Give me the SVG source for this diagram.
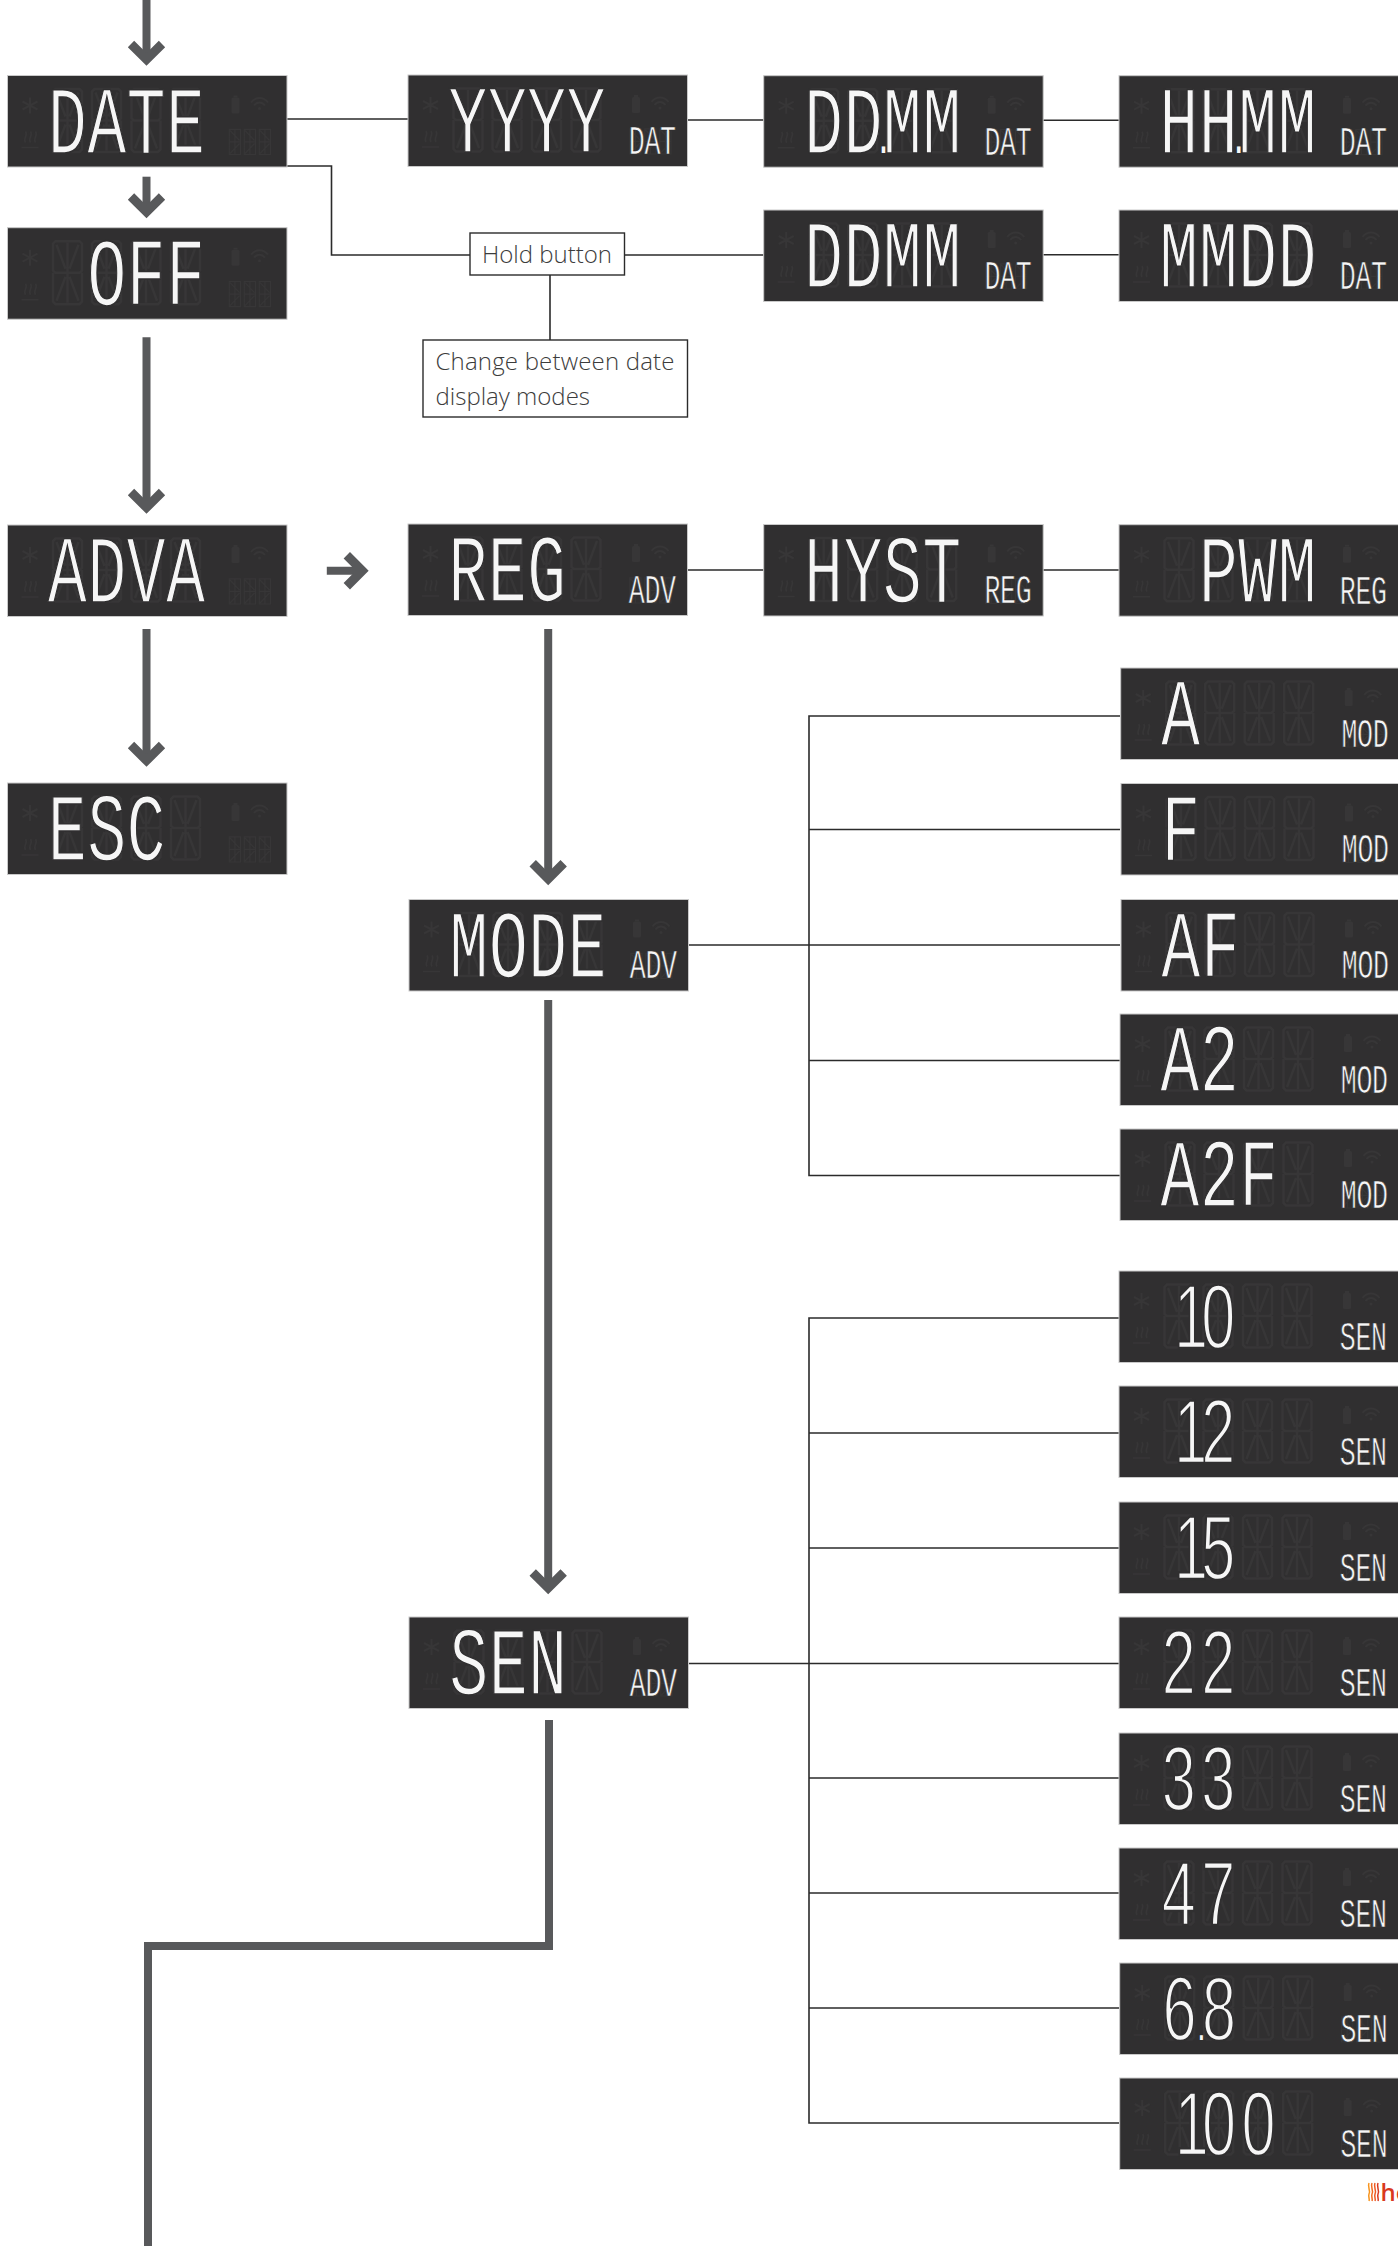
<svg xmlns="http://www.w3.org/2000/svg" width="1398" height="2246" viewBox="0 0 1398 2246">
<style>
.bg{fill:#302f30;stroke:#c9c9c9;stroke-width:1}
.gh{fill:none;stroke:#373637;stroke-width:2.500}
.gf{fill:#373637}
.b,.s{font-family:"Liberation Mono",monospace;fill:#f6f6f6;stroke:#302f30;text-anchor:middle}
.b{font-size:96px;stroke-width:1.600;transform:scaleX(.68)}
.d{font-size:44px;stroke-width:0}
.n{font-family:"Liberation Sans",sans-serif;font-size:90px;stroke-width:2.400}
.s{font-size:41px;stroke-width:.7;transform:scaleX(.65)}
.thin{fill:none;stroke:#2b2b2b;stroke-width:1.600}
.thick{fill:none;stroke:#58595b;stroke-width:8}
.arr{marker-end:url(#head)}
.box{fill:#fff;stroke:#2b2b2b;stroke-width:1.400}
.lb{font-family:"Open Sans",sans-serif;font-weight:300;font-size:24px;fill:#3c3c3c}
</style>
<defs>
<marker id="head" markerUnits="userSpaceOnUse" markerWidth="48" markerHeight="48" refX="24" refY="24" orient="auto" viewBox="0 0 48 48" overflow="visible">
<path d="M8.500 8.500L24 24L8.500 39.500" fill="none" stroke="#58595b" stroke-width="9"/>
</marker>
<g id="cell"><path class="gh" d="M3 1.500H27L29.500 4V31L27 33H3L.5 31V4ZM.5 33L.5 62L3 64.500H27L29.500 62V33M15 3V63M3 33H27M4 5L13 29M26 5L17 29M4 61L13 37M26 61L17 37"/></g>
<g id="mini"><path class="gh" style="stroke-width:1.200" d="M.8 .8H12V26H.8ZM.8 13.400H12M6.400 .8V26M1.500 2L11 12M11 15L1.500 25"/></g>
<g id="lcd">
<rect class="bg" width="279.500" height="91.500"/>
<use href="#cell" x="45" y="12"/><use href="#cell" x="84" y="12"/><use href="#cell" x="123.500" y="12"/><use href="#cell" x="163" y="12"/>
<use href="#mini" x="221" y="53"/><use href="#mini" x="236" y="53"/><use href="#mini" x="251" y="53"/>
<path class="gh" style="stroke-width:2" d="M22.500 22V38M15 26L30 34M30 26L15 34"/>
<path class="gh" style="stroke-width:1.600" d="M14 72H31M18 67C15 63 21 60 18 56M23 67C20 63 26 60 23 56M28 67C25 63 31 60 28 56"/>
<rect class="gf" x="224" y="22" width="8" height="16" rx="1.500"/><rect class="gf" x="226" y="20" width="4" height="2"/>
<path class="gh" style="stroke-width:2" d="M243.500 27C248 21 256 21 260.500 27M246.500 30C249.500 26 254.500 26 257.500 30"/><circle class="gf" cx="252" cy="33" r="1.500"/>
</g>
</defs>

<g id="connectors">
<path class="thin" d="M287 119H408M687.500 120H763.500M1043 120.300H1119M287 166H331.500V255H470M624.500 255H763.500M1043 254.700H1119M550 275V340M687.500 570H763.500M1043 570H1119"/>
<path class="thin" d="M1120 716H809V1175.500H1120M1120 829.500H809M688 945H1120M1120 1060.500H809"/>
<path class="thin" d="M1119 1318H809V2123H1119M1119 1433H809M1119 1548H809M689 1663.500H1119M1119 1778H809M1119 1893H809M1119 2008H809"/>
<path class="thick arr" d="M146.500 0V59.500"/>
<path class="thick arr" d="M146.500 176.700V212"/>
<path class="thick arr" d="M146.500 337.300V507.500"/>
<path class="thick arr" d="M146.500 629V760.500"/>
<path class="thick arr" d="M326.800 570.700H362.300"/>
<path class="thick arr" d="M548.200 629V878.800"/>
<path class="thick arr" d="M548.200 1000V1588"/>
<path class="thick" d="M549 1720V1946H148V2246"/>
</g>

<g id="n-date" transform="translate(7.500 75.500)"><use href="#lcd"/><text class="b" x="88 146 204 262" y="77">DATE</text></g>
<g id="n-off" transform="translate(7.500 227.700)"><use href="#lcd"/><text class="b" x="146 204 262" y="77">OFF</text></g>
<g id="n-adva" transform="translate(7.500 525)"><use href="#lcd"/><text class="b" x="88 146 204 262" y="77">ADVA</text></g>
<g id="n-esc" transform="translate(7.500 783)"><use href="#lcd"/><text class="b" x="88 146 204" y="77">ESC</text></g>
<g id="n-yyyy" transform="translate(408 75)"><use href="#lcd"/><text class="b" x="88 146 204 262" y="77">YYYY</text><text class="s" x="352 376 400" y="79">DAT</text></g>
<g id="n-ddmm-dot" transform="translate(763.700 75.700)"><use href="#lcd"/><text class="b" y="77"><tspan x="88 146">DD</tspan><tspan class="d" x="176">.</tspan><tspan x="204 262">MM</tspan></text><text class="s" x="352 376 400" y="79">DAT</text></g>
<g id="n-hhmm" transform="translate(1119 75.700)"><use href="#lcd"/><text class="b" y="77"><tspan x="88 146">HH</tspan><tspan class="d" x="176">.</tspan><tspan x="204 262">MM</tspan></text><text class="s" x="352 376 400" y="79">DAT</text></g>
<g id="n-ddmm" transform="translate(763.700 210)"><use href="#lcd"/><text class="b" x="88 146 204 262" y="77">DDMM</text><text class="s" x="352 376 400" y="79">DAT</text></g>
<g id="n-mmdd" transform="translate(1119 210)"><use href="#lcd"/><text class="b" x="88 146 204 262" y="77">MMDD</text><text class="s" x="352 376 400" y="79">DAT</text></g>
<g id="n-hold"><rect class="box" x="470" y="233" width="154.500" height="42"/><text class="lb" x="482" y="263">Hold button</text></g>
<g id="n-change"><rect class="box" x="423" y="340" width="264.500" height="77"/><text class="lb" x="435.500" y="370" textLength="239">Change between date</text><text class="lb" x="435.500" y="405">display modes</text></g>
<g id="n-reg" transform="translate(408 524)"><use href="#lcd"/><text class="b" x="88 146 204" y="77">REG</text><text class="s" x="352 376 400" y="79">ADV</text></g>
<g id="n-hyst" transform="translate(763.700 524.500)"><use href="#lcd"/><text class="b" x="88 146 204 262" y="77">HYST</text><text class="s" x="352 376 400" y="79">REG</text></g>
<g id="n-pwm" transform="translate(1119 524.700)"><use href="#lcd"/><text class="b" x="146 204 262" y="77">PWM</text><text class="s" x="352 376 400" y="79">REG</text></g>
<g id="n-mode" transform="translate(409 899.500)"><use href="#lcd"/><text class="b" x="88 146 204 262" y="77">MODE</text><text class="s" x="352 376 400" y="79">ADV</text></g>
<g id="n-sen" transform="translate(409 1617)"><use href="#lcd"/><text class="b" x="88 146 204" y="77">SEN</text><text class="s" x="352 376 400" y="79">ADV</text></g>
<g id="n-a" transform="translate(1120.700 668)"><use href="#lcd"/><text class="b" x="88" y="77">A</text><text class="s" x="352 376 400" y="79">MOD</text></g>
<g id="n-f" transform="translate(1121 783.500)"><use href="#lcd"/><text class="b" x="88" y="77">F</text><text class="s" x="352 376 400" y="79">MOD</text></g>
<g id="n-af" transform="translate(1121 899.500)"><use href="#lcd"/><text class="b" x="88 146" y="77">AF</text><text class="s" x="352 376 400" y="79">MOD</text></g>
<g id="n-a2" transform="translate(1120 1014)"><use href="#lcd"/><text class="b" x="88 146" y="77">A2</text><text class="s" x="352 376 400" y="79">MOD</text></g>
<g id="n-a2f" transform="translate(1120 1129)"><use href="#lcd"/><text class="b" x="88 146 204" y="77">A2F</text><text class="s" x="352 376 400" y="79">MOD</text></g>
<g id="n-10" transform="translate(1119 1271)"><use href="#lcd"/><text class="b n" x="106 146" y="77">10</text><text class="s" x="352 376 400" y="79">SEN</text></g>
<g id="n-12" transform="translate(1119 1386)"><use href="#lcd"/><text class="b n" x="106 146" y="77">12</text><text class="s" x="352 376 400" y="79">SEN</text></g>
<g id="n-15" transform="translate(1119 1502)"><use href="#lcd"/><text class="b n" x="106 146" y="77">15</text><text class="s" x="352 376 400" y="79">SEN</text></g>
<g id="n-22" transform="translate(1119 1617)"><use href="#lcd"/><text class="b n" x="88 146" y="77">22</text><text class="s" x="352 376 400" y="79">SEN</text></g>
<g id="n-33" transform="translate(1119 1733)"><use href="#lcd"/><text class="b n" x="88 146" y="77">33</text><text class="s" x="352 376 400" y="79">SEN</text></g>
<g id="n-47" transform="translate(1119 1848)"><use href="#lcd"/><text class="b n" x="88 146" y="77">47</text><text class="s" x="352 376 400" y="79">SEN</text></g>
<g id="n-68" transform="translate(1119.700 1963)"><use href="#lcd"/><text class="b n" y="77"><tspan x="88">6</tspan><tspan class="d" x="120">.</tspan><tspan x="146">8</tspan></text><text class="s" x="352 376 400" y="79">SEN</text></g>
<g id="n-100" transform="translate(1119.700 2078)"><use href="#lcd"/><text class="b n" x="106 146 204" y="77">100</text><text class="s" x="352 376 400" y="79">SEN</text></g>

<g id="logo">
<path d="M1369 2183C1367 2187 1371 2190 1369 2194C1368 2197 1370 2199 1369 2201" fill="none" stroke="#f7941d" stroke-width="1.500"/>
<path d="M1372 2183C1370 2187 1374 2190 1372 2194C1371 2197 1373 2199 1372 2201" fill="none" stroke="#f26b21" stroke-width="1.500"/>
<path d="M1375 2183C1373 2187 1377 2190 1375 2194C1374 2197 1376 2199 1375 2201" fill="none" stroke="#ee5a24" stroke-width="1.500"/>
<path d="M1378 2183C1376 2187 1380 2190 1378 2194C1377 2197 1379 2199 1378 2201" fill="none" stroke="#d9391e" stroke-width="1.500"/>
<text x="1380.500" y="2200.700" font-family="Open Sans, sans-serif" font-weight="600" font-size="24" fill="#d9391e">he</text>
</g>
</svg>
